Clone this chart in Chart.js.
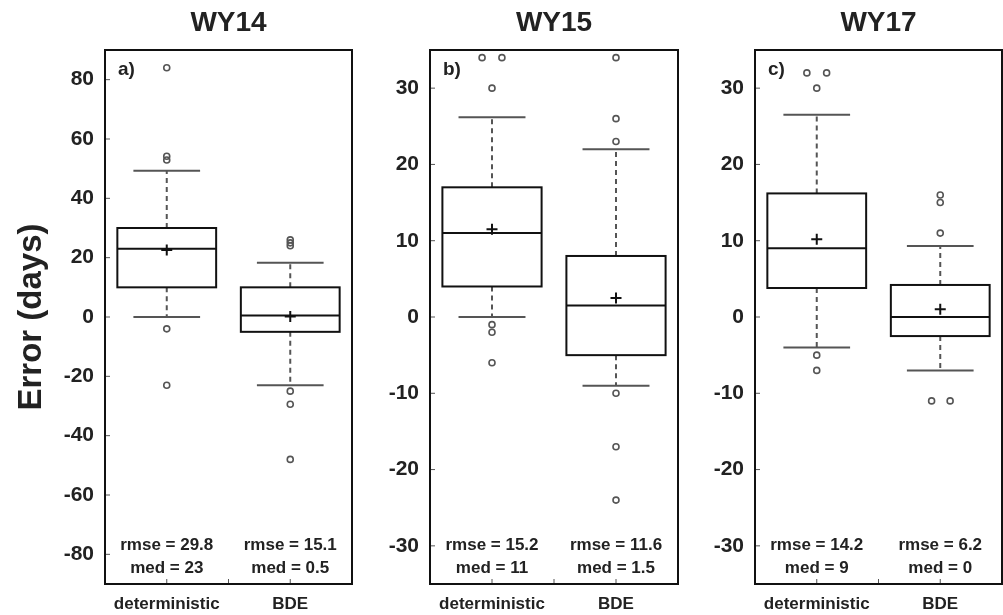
<!DOCTYPE html>
<html>
<head>
<meta charset="utf-8">
<title>Error boxplots</title>
<script src="https://cdn.jsdelivr.net/npm/chart.js@4"></script>
<style>
  body { margin: 0; background: #fff; overflow: hidden; }
  #wrap { position: relative; width: 1003px; height: 615px; }
  .panel { position: absolute; top: 0; height: 615px; }
</style>
</head>
<body>
<div id="wrap">
  <div class="panel" style="left:0;width:360px"><canvas id="c0"></canvas></div>
  <div class="panel" style="left:360px;width:325px"><canvas id="c1"></canvas></div>
  <div class="panel" style="left:685px;width:318px"><canvas id="c2"></canvas></div>
</div>
<script>
// Data
const groups = ['deterministic', 'BDE'];
const years = ['WY14', 'WY15', 'WY17'];
const letters = ['a)', 'b)', 'c)'];
const yTicks = [
    [-80, -60, -40, -20, 0, 20, 40, 60, 80],
    [-30, -20, -10, 0, 10, 20, 30],
    [-30, -20, -10, 0, 10, 20, 30]
];
const yLimits = [[-90, 90], [-35, 35], [-35, 35]];

// per panel: [deterministic, BDE]
const q1 = [[10, -5], [4, -5], [3.8, -2.5]];
const medians = [[23, 0.5], [11, 1.5], [9, 0]];
const q3 = [[30, 10], [17, 8], [16.2, 4.2]];
const whiskLo = [[0, -23], [0, -9], [-4, -7]];
const whiskHi = [[49.3, 18.3], [26.2, 22], [26.5, 9.3]];
const means = [[22.6, 0.2], [11.5, 2.5], [10.2, 1]];
const rmse = [[29.8, 15.1], [15.2, 11.6], [14.2, 6.2]];

// outliers: [x, value]; x = 1 deterministic, 2 BDE (small offsets where points overlap)
const outliers = [
    [[1, 84], [1, 54.2], [1, 52.9], [1, -4], [1, -23],
     [2, 26], [2, 25], [2, 24], [2, -25], [2, -29.4], [2, -48]],
    [[0.92, 34], [1.08, 34], [1, 30], [1, -1], [1, -2], [1, -6],
     [2, 34], [2, 26], [2, 23], [2, -10], [2, -17], [2, -24]],
    [[0.92, 32], [1.08, 32], [1, 30], [1, -5], [1, -7],
     [2, 16], [2, 15], [2, 11], [1.93, -11], [2.08, -11]]
];

const FONT = '"Liberation Sans", Arial, sans-serif';
const INK = '#111';
const GREY = '#555';

// boxes, whiskers, frame and labels drawn through the chart scales
const boxPlugin = {
    id: 'boxes',
    beforeDatasetsDraw(chart, args, opts) {
        const p = opts.panel;
        const x = chart.scales.x, y = chart.scales.y;
        const ctx = chart.ctx;
        ctx.save();
        groups.forEach((g, i) => {
            const cx = x.getPixelForValue(i + 1);
            const half = x.getPixelForValue(i + 1.4) - cx;
            const cap = x.getPixelForValue(i + 1.27) - cx;
            const yq1 = y.getPixelForValue(q1[p][i]);
            const yq3 = y.getPixelForValue(q3[p][i]);
            const ylo = y.getPixelForValue(whiskLo[p][i]);
            const yhi = y.getPixelForValue(whiskHi[p][i]);
            const ymed = y.getPixelForValue(medians[p][i]);

            // dashed whiskers
            ctx.strokeStyle = GREY;
            ctx.lineWidth = 2;
            ctx.setLineDash([5, 4]);
            ctx.beginPath();
            ctx.moveTo(cx, yq3); ctx.lineTo(cx, yhi);
            ctx.moveTo(cx, yq1); ctx.lineTo(cx, ylo);
            ctx.stroke();
            ctx.setLineDash([]);

            // caps
            ctx.beginPath();
            ctx.moveTo(cx - cap, yhi); ctx.lineTo(cx + cap, yhi);
            ctx.moveTo(cx - cap, ylo); ctx.lineTo(cx + cap, ylo);
            ctx.stroke();

            // box + median
            ctx.strokeStyle = INK;
            ctx.fillStyle = '#fff';
            ctx.fillRect(cx - half, yq3, 2 * half, yq1 - yq3);
            ctx.strokeRect(cx - half, yq3, 2 * half, yq1 - yq3);
            ctx.beginPath();
            ctx.moveTo(cx - half, ymed); ctx.lineTo(cx + half, ymed);
            ctx.stroke();
        });
        ctx.restore();
    },
    afterDatasetsDraw(chart, args, opts) {
        const p = opts.panel;
        const a = chart.chartArea;
        const x = chart.scales.x, y = chart.scales.y;
        const ctx = chart.ctx;
        ctx.save();
        // inward tick marks
        ctx.strokeStyle = GREY;
        ctx.lineWidth = 1;
        ctx.beginPath();
        y.ticks.forEach(t => {
            const py = y.getPixelForValue(t.value);
            ctx.moveTo(a.left, py); ctx.lineTo(a.left + 5, py);
        });
        x.ticks.forEach(t => {
            const px = x.getPixelForValue(t.value);
            ctx.moveTo(px, a.bottom); ctx.lineTo(px, a.bottom - 5);
        });
        ctx.stroke();

        // frame
        ctx.strokeStyle = INK;
        ctx.lineWidth = 2;
        ctx.strokeRect(a.left, a.top, a.right - a.left, a.bottom - a.top);

        // texts
        ctx.fillStyle = '#222';
        ctx.textBaseline = 'middle';
        ctx.textAlign = 'center';
        ctx.font = 'bold 28px ' + FONT;
        ctx.fillText(years[p], (a.left + a.right) / 2, 23);

        ctx.textAlign = 'left';
        ctx.font = 'bold 19px ' + FONT;
        ctx.fillText(letters[p], a.left + 13, 70);

        ctx.textAlign = 'center';
        ctx.font = 'bold 17px ' + FONT;
        groups.forEach((g, i) => {
            const cx = x.getPixelForValue(i + 1);
            ctx.fillText('rmse = ' + rmse[p][i], cx, a.bottom - 39);
            ctx.fillText('med = ' + medians[p][i], cx, a.bottom - 16);
        });
        ctx.restore();
    }
};

const yAxisWidths = [105, 70, 70];
const rightPads = [8, 7, 1];

years.forEach((yr, p) => {
    new Chart(document.getElementById('c' + p), {
        type: 'scatter',
        data: {
            datasets: [
                {
                    label: 'outliers',
                    data: outliers[p].map(o => ({ x: o[0], y: o[1] })),
                    pointStyle: 'circle',
                    pointRadius: 3,
                    borderWidth: 1.6,
                    borderColor: GREY,
                    backgroundColor: 'rgba(255,255,255,0)'
                },
                {
                    label: 'mean',
                    data: means[p].map((m, i) => ({ x: i + 1, y: m })),
                    pointStyle: 'cross',
                    pointRadius: 5.5,
                    borderWidth: 2,
                    borderColor: INK
                }
            ]
        },
        options: {
            responsive: true,
            maintainAspectRatio: false,
            animation: false,
            events: [],
            layout: {
                autoPadding: false,
                padding: { top: 50, right: rightPads[p], left: 0, bottom: 0 }
            },
            plugins: {
                legend: { display: false },
                tooltip: { enabled: false },
                boxes: { panel: p }
            },
            scales: {
                x: {
                    type: 'linear',
                    min: 0.5,
                    max: 2.5,
                    afterBuildTicks: s => { s.ticks = [1, 1.5, 2].map(v => ({ value: v })); },
                    afterFit: s => { s.height = 31; s.paddingLeft = 0; s.paddingRight = 0; },
                    grid: { display: false, drawTicks: false },
                    border: { display: false },
                    ticks: {
                        autoSkip: false,
                        maxRotation: 0,
                        padding: 10,
                        color: '#222',
                        font: { family: FONT, size: 17, weight: 'bold' },
                        callback: v => v === 1 ? groups[0] : (v === 2 ? groups[1] : '')
                    }
                },
                y: {
                    min: yLimits[p][0],
                    max: yLimits[p][1],
                    afterBuildTicks: s => { s.ticks = yTicks[p].map(v => ({ value: v })); },
                    afterFit: s => { s.width = yAxisWidths[p]; },
                    grid: { display: false, drawTicks: false },
                    border: { display: false },
                    ticks: {
                        padding: 11,
                        color: '#222',
                        font: { family: FONT, size: 21, weight: 'bold' }
                    },
                    title: {
                        display: p === 0,
                        text: 'Error (days)',
                        color: '#222',
                        font: { family: FONT, size: 33, weight: 'bold' },
                        padding: { top: 12, bottom: 0 }
                    }
                }
            }
        },
        plugins: [boxPlugin]
    });
});
</script>
</body>
</html>
